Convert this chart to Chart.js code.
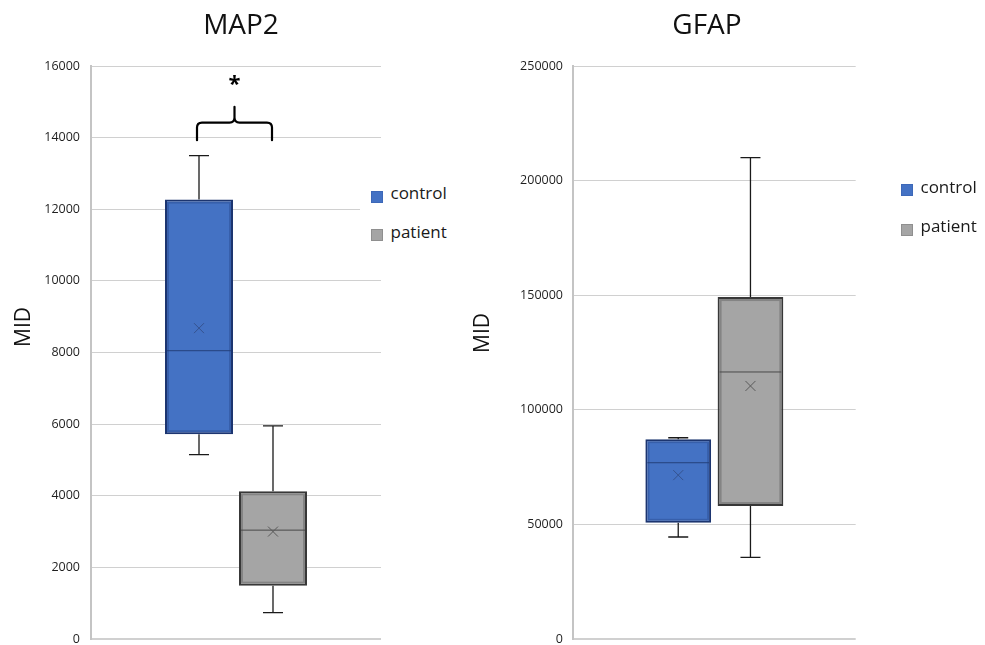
<!DOCTYPE html>
<html>
<head>
<meta charset="utf-8">
<script src="https://cdn.jsdelivr.net/npm/chart.js@4.4.1/dist/chart.umd.min.js"></script>
<style>
  html, body { margin: 0; padding: 0; background: #fff; overflow: hidden; width: 985px; height: 645px; }
  .wrap { position: absolute; top: 0; height: 660px; }
  .title { position: absolute; font-family: "Open Sans", sans-serif; font-size: 28px; line-height: 28px; color: #111; text-align: center; width: 200px; }
  .ytitle { position: absolute; font-family: "Open Sans", sans-serif; font-size: 21px; line-height: 30px; height: 30px; width: 100px; color: #111; text-align: center; transform: rotate(-90deg); transform-origin: 50% 50%; }
  .legtext { position: absolute; font-family: "Open Sans", sans-serif; font-size: 17px; line-height: 20px; color: #1a1a1a; white-space: nowrap; }
  .legsq { position: absolute; width: 12px; height: 12px; box-sizing: border-box; }
  .legbg { position: absolute; background: #fff; }
</style>
</head>
<body>
<div class="wrap" style="left:0;width:490px;"><canvas id="c1"></canvas></div>
<div class="wrap" style="left:490px;width:495px;"><canvas id="c2"></canvas></div>

<div class="title" style="left:141px;top:8.5px;">MAP2</div>
<div class="title" style="left:607px;top:8.5px;">GFAP</div>
<div class="ytitle" style="left:-28.5px;top:311.7px;">MID</div>
<div class="ytitle" style="left:431.3px;top:318px;">MID</div>

<div class="legbg" style="left:360px;top:180px;width:100px;height:70px;"></div>
<div class="legsq" style="left:371px;top:190.5px;background:#4472C4;border:1px solid #3d68b8;"></div>
<div class="legtext" style="left:390.5px;top:183.4px;">control</div>
<div class="legsq" style="left:371px;top:229px;background:#A5A5A5;border:1px solid #8f8f8f;"></div>
<div class="legtext" style="left:390.5px;top:221.7px;">patient</div>

<div class="legsq" style="left:901px;top:183.5px;background:#4472C4;border:1px solid #3d68b8;"></div>
<div class="legtext" style="left:920.5px;top:176.7px;">control</div>
<div class="legsq" style="left:901px;top:223.5px;background:#A5A5A5;border:1px solid #8f8f8f;"></div>
<div class="legtext" style="left:920.5px;top:216.1px;">patient</div>

<script>
// ---------- data ----------
const groups = ['control', 'patient'];

const map2Min    = [5150, 735];
const map2Q1     = [5720, 1490];
const map2Median = [8050, 3040];
const map2Q3     = [12270, 4125];
const map2Max    = [13500, 5950];
const map2Mean   = [8680, 3000];
const map2Ticks  = [0, 2000, 4000, 6000, 8000, 10000, 12000, 14000, 16000];
const map2TickLabels = ['0', '2000', '4000', '6000', '8000', '10000', '12000', '14000', '16000'];
const map2Bracket = [13930, 14420, 14860]; // end, bar, tip
const map2Star = 15660;

const gfapMin    = [44500, 35600];
const gfapQ1     = [50700, 58000];
const gfapMedian = [76900, 116500];
const gfapQ3     = [87200, 149200];
const gfapMax    = [87800, 210000];
const gfapMean   = [71500, 110400];
const gfapTicks  = [0, 50000, 100000, 150000, 200000, 250000];
const gfapTickLabels = ['0', '50000', '100000', '150000', '200000', '250000'];

// ---------- styling ----------
const fills   = ['#4472C4', '#A5A5A5'];
const borders = ['#1c3570', '#383838'];
const insets  = ['rgba(28,53,112,', 'rgba(56,56,56,'];
const medCol  = ['#24407c', '#4a4a4a'];
const meanCol = ['#35528f', '#5a5a5a'];

const boxPlugin = {
  id: 'boxExtras',
  beforeDatasetsDraw(chart, args, o) {
    const ctx = chart.ctx, ys = chart.scales.y;
    ctx.save();
    ctx.strokeStyle = '#1a1a1a';
    ctx.lineWidth = 1.3;
    chart.data.datasets.forEach((ds, i) => {
      const el = chart.getDatasetMeta(i).data[0];
      const x = el.x;
      const pMax = ys.getPixelForValue(o.max[i]);
      const pQ3 = ys.getPixelForValue(o.q3[i]);
      const pQ1 = ys.getPixelForValue(o.q1[i]);
      const pMin = ys.getPixelForValue(o.min[i]);
      ctx.beginPath();
      ctx.moveTo(x, pQ3); ctx.lineTo(x, pMax);
      ctx.moveTo(x - 10, pMax); ctx.lineTo(x + 10, pMax);
      ctx.moveTo(x, pQ1); ctx.lineTo(x, pMin);
      ctx.moveTo(x - 10, pMin); ctx.lineTo(x + 10, pMin);
      ctx.stroke();
    });
    ctx.restore();
  },
  afterDatasetsDraw(chart, args, o) {
    const ctx = chart.ctx, ys = chart.scales.y;
    ctx.save();
    chart.data.datasets.forEach((ds, i) => {
      const el = chart.getDatasetMeta(i).data[0];
      const x = el.x, w = el.width;
      const top = Math.min(el.y, el.base), bot = Math.max(el.y, el.base);
      // soft inner edge shading like the reference
      ctx.strokeStyle = insets[i] + '0.3)';
      ctx.lineWidth = 2;
      ctx.strokeRect(x - w / 2 + 3, top + 3, w - 6, bot - top - 6);
      const pMed = ys.getPixelForValue(o.median[i]);
      ctx.strokeStyle = medCol[i];
      ctx.lineWidth = 1;
      ctx.beginPath();
      ctx.moveTo(x - w / 2 + 2, pMed); ctx.lineTo(x + w / 2 - 2, pMed);
      ctx.stroke();
      const pMean = ys.getPixelForValue(o.mean[i]);
      ctx.strokeStyle = meanCol[i];
      ctx.beginPath();
      ctx.moveTo(x - 5, pMean - 5); ctx.lineTo(x + 5, pMean + 5);
      ctx.moveTo(x + 5, pMean - 5); ctx.lineTo(x - 5, pMean + 5);
      ctx.stroke();
    });
    if (o.bracket) {
      const x1 = chart.getDatasetMeta(0).data[0].x - 2;
      const x2 = chart.getDatasetMeta(1).data[0].x - 1;
      const xm = (x1 + x2) / 2;
      const yEnd = ys.getPixelForValue(o.bracket[0]);
      const yBar = ys.getPixelForValue(o.bracket[1]);
      const yTip = ys.getPixelForValue(o.bracket[2]);
      const r = 5;
      ctx.strokeStyle = '#000';
      ctx.lineWidth = 2.2;
      ctx.lineCap = 'round';
      ctx.beginPath();
      ctx.moveTo(x1, yEnd);
      ctx.lineTo(x1, yBar + r);
      ctx.quadraticCurveTo(x1, yBar, x1 + r, yBar);
      ctx.lineTo(xm - r, yBar);
      ctx.quadraticCurveTo(xm, yBar, xm, yBar - r);
      ctx.lineTo(xm, yTip);
      ctx.moveTo(x2, yEnd);
      ctx.lineTo(x2, yBar + r);
      ctx.quadraticCurveTo(x2, yBar, x2 - r, yBar);
      ctx.lineTo(xm + r, yBar);
      ctx.quadraticCurveTo(xm, yBar, xm, yBar - r);
      ctx.stroke();
      const yStar = ys.getPixelForValue(o.star);
      ctx.fillStyle = '#000';
      ctx.font = 'bold 22px "Open Sans"';
      ctx.textAlign = 'center';
      ctx.textBaseline = 'alphabetic';
      ctx.fillText('*', xm, yStar + 13);
    }
    ctx.restore();
  }
};

function makeChart(id, cfg) {
  const datasets = groups.map((g, i) => ({
    label: g,
    data: [[cfg.q1[i], cfg.q3[i]]],
    backgroundColor: fills[i],
    borderColor: borders[i],
    borderWidth: 2,
    borderSkipped: false,
    categoryPercentage: cfg.cp,
    barPercentage: cfg.bp
  }));
  return new Chart(document.getElementById(id), {
    type: 'bar',
    data: { labels: [''], datasets },
    plugins: [boxPlugin],
    options: {
      responsive: true,
      maintainAspectRatio: false,
      animation: false,
      events: [],
      layout: { padding: { left: 0, right: cfg.padRight, top: 66, bottom: 21 } },
      plugins: {
        legend: { display: false },
        title: { display: false },
        tooltip: { enabled: false },
        boxExtras: cfg
      },
      scales: {
        x: { display: false },
        y: {
          min: cfg.ticks[0],
          max: cfg.ticks[cfg.ticks.length - 1],
          afterFit: s => { s.width = cfg.axisW; },
          afterBuildTicks: s => { s.ticks = cfg.ticks.map(v => ({ value: v })); },
          ticks: {
            padding: cfg.tickPad,
            color: '#1f1f1f',
            font: { family: '"Open Sans"', size: 12.5 },
            callback: (v) => cfg.tickLabels[cfg.ticks.indexOf(v)]
          },
          grid: {
            drawTicks: false,
            color: '#d0d0d0',
            lineWidth: c => (c.tick && c.tick.value === 0 ? 2 : 1)
          },
          border: { display: true, color: '#c4c4c4', width: 2 }
        }
      }
    }
  });
}

makeChart('c1', {
  min: map2Min, q1: map2Q1, median: map2Median, q3: map2Q3, max: map2Max, mean: map2Mean,
  ticks: map2Ticks, tickLabels: map2TickLabels,
  bracket: map2Bracket, star: map2Star,
  cp: 0.5103, bp: 0.919, padRight: 109, axisW: 91, tickPad: 11
});

makeChart('c2', {
  min: gfapMin, q1: gfapQ1, median: gfapMedian, q3: gfapQ3, max: gfapMax, mean: gfapMean,
  ticks: gfapTicks, tickLabels: gfapTickLabels,
  bracket: null,
  cp: 0.511, bp: 0.91, padRight: 129.3, axisW: 83, tickPad: 10
});
</script>
</body>
</html>
